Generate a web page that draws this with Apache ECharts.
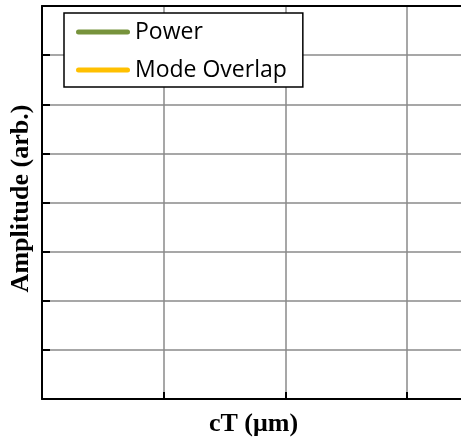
<!DOCTYPE html>
<html>
<head>
<meta charset="utf-8">
<script src="https://cdn.jsdelivr.net/npm/echarts@6/dist/echarts.min.js"></script>
<style>
  html, body { margin: 0; padding: 0; background: #fff; }
  #chart { width: 461px; height: 440px; }
</style>
</head>
<body>
<div id="chart"></div>
<script>
// Series names and their (empty) traces
const seriesNames = ['Power', 'Mode Overlap'];
const seriesColors = ['#77933C', '#FFC000'];
const powerValues = [];
const modeOverlapValues = [];

// Axis ranges (no tick labels are printed)
const xRange = [0, 3.46];
const yRange = [0, 8];

const axisTitleX = 'cT (\u03bcm)';
const axisTitleY = 'Amplitude (arb.)';

// Rounded capsule used as the legend swatch
const capsule = 'path://M2.5,0 L51.5,0 A2.5,2.5 0 0 1 51.5,5 L2.5,5 A2.5,2.5 0 0 1 2.5,0 Z';

const chart = echarts.init(document.getElementById('chart'), null, { renderer: 'canvas' });

const gridLine = { show: true, lineStyle: { color: '#8a8a8a', width: 1.5 }, showMaxLine: false };
const titleFont = { fontFamily: 'Liberation Serif', fontWeight: 'bold', fontSize: 26, color: '#000' };

chart.setOption({
  animation: false,
  backgroundColor: '#ffffff',
  grid: { left: 42, right: -2, top: 6, bottom: 41, containLabel: false, outerBoundsMode: 'none' },
  legend: {
    orient: 'vertical',
    left: 64,
    top: 13,
    padding: [6, 16, 4, 12],
    itemGap: 12,
    itemWidth: 54,
    itemHeight: 5,
    icon: capsule,
    backgroundColor: '#ffffff',
    borderColor: '#000000',
    borderWidth: 1.5,
    borderRadius: 0,
    textStyle: { fontFamily: 'Open Sans', fontSize: 23, color: '#000', lineHeight: 26 },
    data: seriesNames
  },
  xAxis: [
    {
      type: 'value',
      min: xRange[0],
      max: xRange[1],
      interval: 1,
      position: 'bottom',
      name: axisTitleX,
      nameLocation: 'middle',
      nameGap: 12,
      nameTextStyle: Object.assign({ padding: [0, 0, 0, 2] }, titleFont),
      axisLine: { lineStyle: { color: '#000', width: 2 } },
      axisTick: { show: true, inside: true, length: 7, lineStyle: { color: '#000', width: 2 } },
      axisLabel: { show: false },
      splitLine: gridLine
    },
    {
      type: 'value',
      min: xRange[0],
      max: xRange[1],
      interval: 1,
      position: 'top',
      axisLine: { lineStyle: { color: '#000', width: 2 } },
      axisTick: { show: false },
      axisLabel: { show: false },
      splitLine: { show: false }
    }
  ],
  yAxis: {
    type: 'value',
    min: yRange[0],
    max: yRange[1],
    interval: 1,
    name: axisTitleY,
    nameLocation: 'middle',
    nameGap: 8,
    nameTextStyle: Object.assign({ padding: [0, 0, 0, 8] }, titleFont),
    axisLine: { show: true, lineStyle: { color: '#000', width: 2 } },
    axisTick: { show: true, inside: true, length: 8, lineStyle: { color: '#000', width: 2 } },
    axisLabel: { show: false },
    splitLine: gridLine
  },
  series: [
    {
      name: seriesNames[0],
      type: 'line',
      showSymbol: false,
      color: seriesColors[0],
      lineStyle: { width: 4, color: seriesColors[0] },
      data: powerValues
    },
    {
      name: seriesNames[1],
      type: 'line',
      showSymbol: false,
      color: seriesColors[1],
      lineStyle: { width: 4, color: seriesColors[1] },
      data: modeOverlapValues
    }
  ]
});
</script>
</body>
</html>
